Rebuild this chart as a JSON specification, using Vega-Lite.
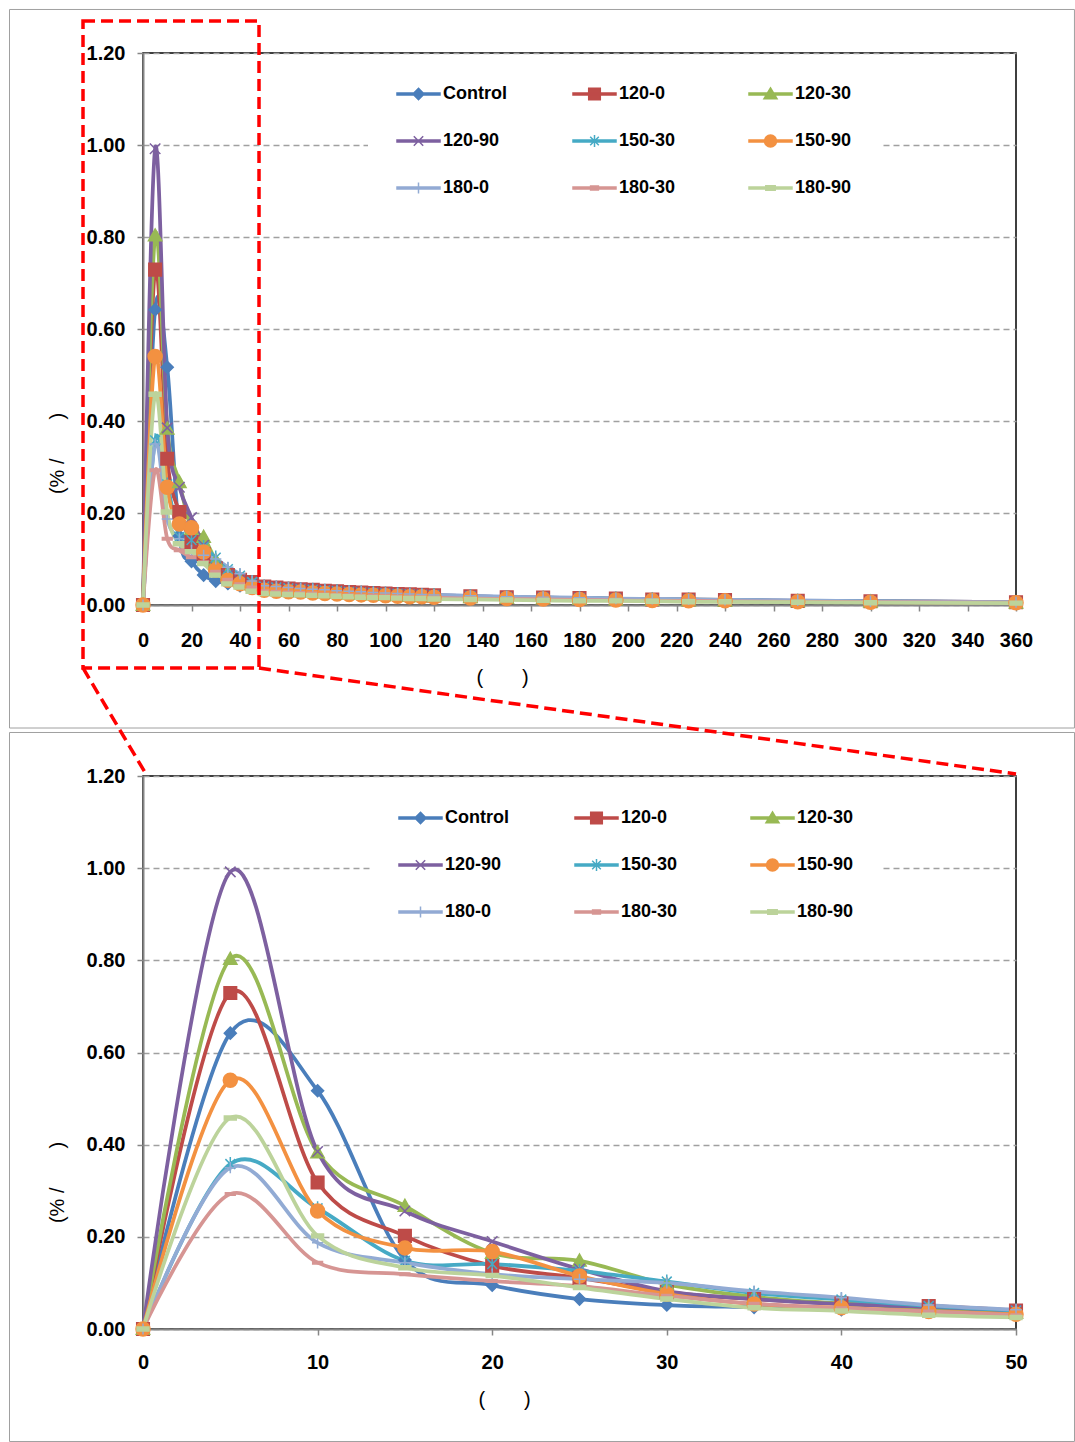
{
  "$schema": "https://vega.github.io/schema/vega-lite/v6.json",
  "background": "#FFFFFF",
  "padding": {"left": 8, "top": 8, "right": 0, "bottom": 0},
  "bounds": "flush",
  "spacing": 171,
  "resolve": {"legend": {"color": "independent"}},
  "config": {
    "font": "Liberation Sans",
    "view": {"stroke": "#000000", "strokeWidth": 1.5},
    "axis": {
      "labelFont": "Liberation Sans", "labelFontSize": 20, "labelFontWeight": "bold", "labelColor": "#000000",
      "domainColor": "#868686", "domainWidth": 2, "tickColor": "#868686", "tickWidth": 1.5, "tickSize": 6,
      "titleFont": "Liberation Sans", "titleFontSize": 20, "titleFontWeight": "normal", "titleColor": "#000000",
      "labelFlush": false, "labelOverlap": false,
      "gridColor": "#A0A0A0", "gridDash": [6, 4], "gridWidth": 1.3
    },
    "axisX": {"grid": false},
    "axisY": {"grid": true, "labelPadding": 12},
    "legend": {
      "orient": "none", "direction": "horizontal", "columns": 3, "gridAlign": "all",
      "columnPadding": 63, "rowPadding": 27, "padding": 28, "fillColor": "#FFFFFF",
      "symbolSize": 400, "symbolStrokeWidth": 1.5,
      "labelFont": "Liberation Sans", "labelFontSize": 18, "labelFontWeight": "bold", "labelColor": "#000000", "labelOffset": 25
    }
  },
  "datasets": {
    "d": [
      {"t": 0, "Control": 0, "120-0": 0, "120-30": 0, "120-90": 0, "150-30": 0, "150-90": 0, "180-0": 0, "180-30": 0, "180-90": 0},
      {"t": 5, "Control": 0.642, "120-0": 0.729, "120-30": 0.803, "120-90": 0.992, "150-30": 0.358, "150-90": 0.540, "180-0": 0.350, "180-30": 0.293, "180-90": 0.458},
      {"t": 10, "Control": 0.517, "120-0": 0.318, "120-30": 0.383, "120-90": 0.385, "150-30": 0.262, "150-90": 0.256, "180-0": 0.187, "180-30": 0.144, "180-90": 0.202},
      {"t": 15, "Control": 0.150, "120-0": 0.202, "120-30": 0.267, "120-90": 0.256, "150-30": 0.148, "150-90": 0.176, "180-0": 0.144, "180-30": 0.119, "180-90": 0.133},
      {"t": 20, "Control": 0.095, "120-0": 0.137, "120-30": 0.165, "120-90": 0.190, "150-30": 0.141, "150-90": 0.168, "180-0": 0.119, "180-30": 0.104, "180-90": 0.116},
      {"t": 25, "Control": 0.065, "120-0": 0.111, "120-30": 0.148, "120-90": 0.130, "150-30": 0.126, "150-90": 0.115, "180-0": 0.108, "180-30": 0.093, "180-90": 0.090},
      {"t": 30, "Control": 0.052, "120-0": 0.080, "120-30": 0.097, "120-90": 0.082, "150-30": 0.103, "150-90": 0.076, "180-0": 0.100, "180-30": 0.072, "180-90": 0.065},
      {"t": 35, "Control": 0.047, "120-0": 0.065, "120-30": 0.070, "120-90": 0.065, "150-30": 0.078, "150-90": 0.054, "180-0": 0.082, "180-30": 0.055, "180-90": 0.046},
      {"t": 40, "Control": 0.042, "120-0": 0.055, "120-30": 0.055, "120-90": 0.054, "150-30": 0.064, "150-90": 0.046, "180-0": 0.068, "180-30": 0.045, "180-90": 0.039},
      {"t": 45, "Control": 0.040, "120-0": 0.050, "120-30": 0.045, "120-90": 0.048, "150-30": 0.050, "150-90": 0.038, "180-0": 0.052, "180-30": 0.038, "180-90": 0.030},
      {"t": 50, "Control": 0.036, "120-0": 0.040, "120-30": 0.035, "120-90": 0.040, "150-30": 0.040, "150-90": 0.032, "180-0": 0.042, "180-30": 0.030, "180-90": 0.025},
      {"t": 55, "Control": 0.034, "120-0": 0.038, "120-30": 0.033, "120-90": 0.038, "150-30": 0.038, "150-90": 0.030, "180-0": 0.040, "180-30": 0.029, "180-90": 0.024},
      {"t": 60, "Control": 0.032, "120-0": 0.036, "120-30": 0.031, "120-90": 0.036, "150-30": 0.036, "150-90": 0.029, "180-0": 0.038, "180-30": 0.027, "180-90": 0.023},
      {"t": 65, "Control": 0.031, "120-0": 0.034, "120-30": 0.030, "120-90": 0.035, "150-30": 0.034, "150-90": 0.028, "180-0": 0.036, "180-30": 0.026, "180-90": 0.022},
      {"t": 70, "Control": 0.030, "120-0": 0.033, "120-30": 0.029, "120-90": 0.033, "150-30": 0.033, "150-90": 0.026, "180-0": 0.034, "180-30": 0.025, "180-90": 0.021},
      {"t": 75, "Control": 0.028, "120-0": 0.031, "120-30": 0.027, "120-90": 0.031, "150-30": 0.031, "150-90": 0.025, "180-0": 0.033, "180-30": 0.023, "180-90": 0.020},
      {"t": 80, "Control": 0.027, "120-0": 0.030, "120-30": 0.026, "120-90": 0.030, "150-30": 0.030, "150-90": 0.024, "180-0": 0.031, "180-30": 0.022, "180-90": 0.019},
      {"t": 85, "Control": 0.026, "120-0": 0.028, "120-30": 0.025, "120-90": 0.028, "150-30": 0.028, "150-90": 0.023, "180-0": 0.030, "180-30": 0.021, "180-90": 0.018},
      {"t": 90, "Control": 0.024, "120-0": 0.027, "120-30": 0.024, "120-90": 0.027, "150-30": 0.027, "150-90": 0.022, "180-0": 0.029, "180-30": 0.020, "180-90": 0.017},
      {"t": 95, "Control": 0.023, "120-0": 0.026, "120-30": 0.023, "120-90": 0.026, "150-30": 0.026, "150-90": 0.021, "180-0": 0.027, "180-30": 0.020, "180-90": 0.016},
      {"t": 100, "Control": 0.022, "120-0": 0.025, "120-30": 0.022, "120-90": 0.025, "150-30": 0.025, "150-90": 0.020, "180-0": 0.026, "180-30": 0.019, "180-90": 0.016},
      {"t": 105, "Control": 0.022, "120-0": 0.024, "120-30": 0.021, "120-90": 0.024, "150-30": 0.024, "150-90": 0.019, "180-0": 0.025, "180-30": 0.018, "180-90": 0.015},
      {"t": 110, "Control": 0.021, "120-0": 0.023, "120-30": 0.020, "120-90": 0.023, "150-30": 0.023, "150-90": 0.018, "180-0": 0.024, "180-30": 0.017, "180-90": 0.014},
      {"t": 115, "Control": 0.020, "120-0": 0.022, "120-30": 0.019, "120-90": 0.022, "150-30": 0.022, "150-90": 0.018, "180-0": 0.023, "180-30": 0.017, "180-90": 0.014},
      {"t": 120, "Control": 0.019, "120-0": 0.021, "120-30": 0.019, "120-90": 0.021, "150-30": 0.021, "150-90": 0.017, "180-0": 0.022, "180-30": 0.016, "180-90": 0.013},
      {"t": 135, "Control": 0.017, "120-0": 0.019, "120-30": 0.017, "120-90": 0.019, "150-30": 0.019, "150-90": 0.015, "180-0": 0.020, "180-30": 0.014, "180-90": 0.012},
      {"t": 150, "Control": 0.015, "120-0": 0.017, "120-30": 0.015, "120-90": 0.017, "150-30": 0.017, "150-90": 0.014, "180-0": 0.018, "180-30": 0.013, "180-90": 0.011},
      {"t": 165, "Control": 0.014, "120-0": 0.016, "120-30": 0.014, "120-90": 0.016, "150-30": 0.016, "150-90": 0.013, "180-0": 0.017, "180-30": 0.012, "180-90": 0.010},
      {"t": 180, "Control": 0.013, "120-0": 0.015, "120-30": 0.013, "120-90": 0.015, "150-30": 0.015, "150-90": 0.012, "180-0": 0.016, "180-30": 0.011, "180-90": 0.009},
      {"t": 195, "Control": 0.012, "120-0": 0.014, "120-30": 0.012, "120-90": 0.013, "150-30": 0.014, "150-90": 0.011, "180-0": 0.014, "180-30": 0.010, "180-90": 0.009},
      {"t": 210, "Control": 0.011, "120-0": 0.012, "120-30": 0.011, "120-90": 0.012, "150-30": 0.012, "150-90": 0.010, "180-0": 0.013, "180-30": 0.009, "180-90": 0.008},
      {"t": 225, "Control": 0.010, "120-0": 0.012, "120-30": 0.010, "120-90": 0.011, "150-30": 0.012, "150-90": 0.009, "180-0": 0.012, "180-30": 0.009, "180-90": 0.007},
      {"t": 240, "Control": 0.010, "120-0": 0.011, "120-30": 0.009, "120-90": 0.011, "150-30": 0.011, "150-90": 0.009, "180-0": 0.011, "180-30": 0.008, "180-90": 0.007},
      {"t": 270, "Control": 0.008, "120-0": 0.009, "120-30": 0.008, "120-90": 0.009, "150-30": 0.009, "150-90": 0.007, "180-0": 0.010, "180-30": 0.007, "180-90": 0.006},
      {"t": 300, "Control": 0.007, "120-0": 0.008, "120-30": 0.007, "120-90": 0.008, "150-30": 0.008, "150-90": 0.006, "180-0": 0.008, "180-30": 0.006, "180-90": 0.005},
      {"t": 360, "Control": 0.005, "120-0": 0.006, "120-30": 0.005, "120-90": 0.006, "150-30": 0.006, "150-90": 0.005, "180-0": 0.006, "180-30": 0.005, "180-90": 0.004}
    ]
  },
  "vconcat": [
    {
      "width": 873,
      "height": 552,
      "layer": [
        {
          "data": {"name": "d"},
          "transform": [{"fold": ["Control", "120-0", "120-30", "120-90", "150-30", "150-90", "180-0", "180-30", "180-90"], "as": ["s", "v"]}],
          "encoding": {
            "x": {"field": "t", "type": "quantitative", "scale": {"domain": [0, 360]},
              "axis": {"values": [0, 20, 40, 60, 80, 100, 120, 140, 160, 180, 200, 220, 240, 260, 280, 300, 320, 340, 360], "labelPadding": 19,
                "title": "(\u00a0\u00a0\u00a0\u00a0\u00a0\u00a0\u00a0)", "titleX": 359, "titleY": 72, "titleBaseline": "middle"}},
            "y": {"field": "v", "type": "quantitative", "scale": {"domain": [0, 1.2]},
              "axis": {"values": [0, 0.2, 0.4, 0.6, 0.8, 1, 1.2], "format": ".2f",
                "title": "(% /\u00a0\u00a0\u00a0\u00a0\u00a0\u00a0\u00a0)", "titleX": -86, "titleY": 400, "titleBaseline": "middle"}},
            "color": {"field": "s", "type": "nominal",
              "scale": {"domain": ["Control", "120-0", "120-30", "120-90", "150-30", "150-90", "180-0", "180-30", "180-90"],
                "range": ["#4A7EBB", "#BE4B48", "#98B954", "#7D60A0", "#46AAC5", "#F39141", "#92ABD4", "#D69593", "#BCD39B"]},
              "legend": {
                "title": null, "legendX": 225, "legendY": 2,
                "encode": {"symbols": {"update": {
                  "shape": {"signal": "['M-1,-0.11H3.3V0.11H-1Z M1.15,-0.56L1.71,0L1.15,0.56L0.59,0Z','M-1,-0.11H3.3V0.11H-1Z M0.57,-0.58H1.73V0.58H0.57Z','M-1,-0.11H3.3V0.11H-1Z M1.15,-0.6L1.8,0.47H0.5Z','M-1,-0.11H3.3V0.11H-1Z M0.68,-0.47L1.62,0.47M0.68,0.47L1.62,-0.47','M-1,-0.11H3.3V0.11H-1Z M0.72,-0.43L1.58,0.43M0.72,0.43L1.58,-0.43M1.15,-0.6V0.6','M-1,-0.11H3.3V0.11H-1Z M0.55,0A0.6,0.6 0 1 1 1.75,0A0.6,0.6 0 1 1 0.55,0Z','M-1,-0.11H3.3V0.11H-1Z M1.15,-0.56V0.56','M-1,-0.11H3.3V0.11H-1Z M0.76,-0.19H1.54V0.19H0.76Z','M-1,-0.11H3.3V0.11H-1Z M0.68,-0.22H1.62V0.22H0.68Z'][indexof(['Control','120-0','120-30','120-90','150-30','150-90','180-0','180-30','180-90'], datum.value)]"},
                  "fill": {"scale": "color", "field": "value"},
                  "stroke": {"scale": "color", "field": "value"},
                  "strokeWidth": {"value": 1.5},
                  "opacity": {"value": 1}
                }}}
              }}
          },
          "layer": [
            {"mark": {"type": "line", "interpolate": "cardinal", "strokeWidth": 3.75}},
            {"mark": {"type": "point", "filled": true, "size": 196, "strokeWidth": 1.5, "opacity": 1},
              "encoding": {
                "shape": {"field": "s", "type": "nominal", "legend": null,
                  "scale": {"domain": ["Control", "120-0", "120-30", "120-90", "150-30", "150-90", "180-0", "180-30", "180-90"],
                    "range": ["M0,-0.86L0.86,0L0,0.86L-0.86,0Z", "M-0.9,-0.9H0.9V0.9H-0.9Z", "M0,-0.95L0.95,0.75H-0.95Z", "M-0.75,-0.75L0.75,0.75M-0.75,0.75L0.75,-0.75", "M-0.7,-0.7L0.7,0.7M-0.7,0.7L0.7,-0.7M0,-1V1", "M-1,0A1,1 0 1 1 1,0A1,1 0 1 1 -1,0Z", "M-0.8,0H0.8M0,-0.8V0.8", "M-0.7,-0.18H0.7V0.18H-0.7Z", "M-0.85,-0.28H0.85V0.28H-0.85Z"]}},
                "stroke": {"field": "s", "type": "nominal", "legend": null,
                  "scale": {"domain": ["Control", "120-0", "120-30", "120-90", "150-30", "150-90", "180-0", "180-30", "180-90"],
                    "range": ["#4A7EBB", "#BE4B48", "#98B954", "#7D60A0", "#46AAC5", "#F39141", "#92ABD4", "#D69593", "#BCD39B"]}}
              }}
          ]
        },
        {
          "data": {"values": [{"x1": -55.05, "x2": 384.1, "y1": -0.2674, "y2": 1.2946}]},
          "mark": {"type": "rect", "filled": false, "stroke": "#A0A0A0", "strokeWidth": 1, "clip": false},
          "encoding": {
            "x": {"field": "x1", "type": "quantitative", "scale": {"domain": [0, 360]}},
            "x2": {"field": "x2"},
            "y": {"field": "y1", "type": "quantitative", "scale": {"domain": [0, 1.2]}},
            "y2": {"field": "y2"}
          }
        },
        {
          "data": {"values": [{"x1": -24.74, "x2": 47.84, "y1": -0.137, "y2": 1.2696}]},
          "mark": {"type": "rect", "filled": false, "stroke": "#FF0000", "strokeWidth": 3.5, "strokeDash": [12, 6], "clip": false},
          "encoding": {
            "x": {"field": "x1", "type": "quantitative", "scale": {"domain": [0, 360]}},
            "x2": {"field": "x2"},
            "y": {"field": "y1", "type": "quantitative", "scale": {"domain": [0, 1.2]}},
            "y2": {"field": "y2"}
          }
        }
      ]
    },
    {
      "width": 873,
      "height": 553,
      "layer": [
        {
          "data": {"name": "d"},
          "transform": [
            {"filter": "datum.t <= 50"},
            {"fold": ["Control", "120-0", "120-30", "120-90", "150-30", "150-90", "180-0", "180-30", "180-90"], "as": ["s", "v"]}
          ],
          "encoding": {
            "x": {"field": "t", "type": "quantitative", "scale": {"domain": [0, 50]},
              "axis": {"values": [0, 10, 20, 30, 40, 50], "labelPadding": 17,
                "title": "(\u00a0\u00a0\u00a0\u00a0\u00a0\u00a0\u00a0)", "titleX": 361, "titleY": 70, "titleBaseline": "middle"}},
            "y": {"field": "v", "type": "quantitative", "scale": {"domain": [0, 1.2]},
              "axis": {"values": [0, 0.2, 0.4, 0.6, 0.8, 1, 1.2], "format": ".2f",
                "title": "(% /\u00a0\u00a0\u00a0\u00a0\u00a0\u00a0\u00a0)", "titleX": -86, "titleY": 406, "titleBaseline": "middle"}},
            "color": {"field": "s", "type": "nominal",
              "scale": {"domain": ["Control", "120-0", "120-30", "120-90", "150-30", "150-90", "180-0", "180-30", "180-90"],
                "range": ["#4A7EBB", "#BE4B48", "#98B954", "#7D60A0", "#46AAC5", "#F39141", "#92ABD4", "#D69593", "#BCD39B"]},
              "legend": {
                "title": null, "legendX": 227, "legendY": 3,
                "encode": {"symbols": {"update": {
                  "shape": {"signal": "['M-1,-0.11H3.3V0.11H-1Z M1.15,-0.56L1.71,0L1.15,0.56L0.59,0Z','M-1,-0.11H3.3V0.11H-1Z M0.57,-0.58H1.73V0.58H0.57Z','M-1,-0.11H3.3V0.11H-1Z M1.15,-0.6L1.8,0.47H0.5Z','M-1,-0.11H3.3V0.11H-1Z M0.68,-0.47L1.62,0.47M0.68,0.47L1.62,-0.47','M-1,-0.11H3.3V0.11H-1Z M0.72,-0.43L1.58,0.43M0.72,0.43L1.58,-0.43M1.15,-0.6V0.6','M-1,-0.11H3.3V0.11H-1Z M0.55,0A0.6,0.6 0 1 1 1.75,0A0.6,0.6 0 1 1 0.55,0Z','M-1,-0.11H3.3V0.11H-1Z M1.15,-0.56V0.56','M-1,-0.11H3.3V0.11H-1Z M0.76,-0.19H1.54V0.19H0.76Z','M-1,-0.11H3.3V0.11H-1Z M0.68,-0.22H1.62V0.22H0.68Z'][indexof(['Control','120-0','120-30','120-90','150-30','150-90','180-0','180-30','180-90'], datum.value)]"},
                  "fill": {"scale": "color", "field": "value"},
                  "stroke": {"scale": "color", "field": "value"},
                  "strokeWidth": {"value": 1.5},
                  "opacity": {"value": 1}
                }}}
              }}
          },
          "layer": [
            {"mark": {"type": "line", "interpolate": "cardinal", "strokeWidth": 3.75}},
            {"mark": {"type": "point", "filled": true, "size": 196, "strokeWidth": 1.5, "opacity": 1},
              "encoding": {
                "shape": {"field": "s", "type": "nominal", "legend": null,
                  "scale": {"domain": ["Control", "120-0", "120-30", "120-90", "150-30", "150-90", "180-0", "180-30", "180-90"],
                    "range": ["M0,-0.86L0.86,0L0,0.86L-0.86,0Z", "M-0.9,-0.9H0.9V0.9H-0.9Z", "M0,-0.95L0.95,0.75H-0.95Z", "M-0.75,-0.75L0.75,0.75M-0.75,0.75L0.75,-0.75", "M-0.7,-0.7L0.7,0.7M-0.7,0.7L0.7,-0.7M0,-1V1", "M-1,0A1,1 0 1 1 1,0A1,1 0 1 1 -1,0Z", "M-0.8,0H0.8M0,-0.8V0.8", "M-0.7,-0.18H0.7V0.18H-0.7Z", "M-0.85,-0.28H0.85V0.28H-0.85Z"]}},
                "stroke": {"field": "s", "type": "nominal", "legend": null,
                  "scale": {"domain": ["Control", "120-0", "120-30", "120-90", "150-30", "150-90", "180-0", "180-30", "180-90"],
                    "range": ["#4A7EBB", "#BE4B48", "#98B954", "#7D60A0", "#46AAC5", "#F39141", "#92ABD4", "#D69593", "#BCD39B"]}}
              }}
          ]
        },
        {
          "data": {"values": [{"x1": -7.646, "x2": 53.35, "y1": -0.2441, "y2": 1.2944}]},
          "mark": {"type": "rect", "filled": false, "stroke": "#A0A0A0", "strokeWidth": 1, "clip": false},
          "encoding": {
            "x": {"field": "x1", "type": "quantitative", "scale": {"domain": [0, 50]}},
            "x2": {"field": "x2"},
            "y": {"field": "y1", "type": "quantitative", "scale": {"domain": [0, 1.2]}},
            "y2": {"field": "y2"}
          }
        },
        {
          "data": {"values": [{"x1": -3.436, "x2": 0.17, "y1": 1.4344, "y2": 1.2043}, {"x1": 6.644, "x2": 50.0, "y1": 1.4344, "y2": 1.2043}]},
          "mark": {"type": "rule", "stroke": "#FF0000", "strokeWidth": 3.5, "strokeDash": [12, 6], "clip": false},
          "encoding": {
            "x": {"field": "x1", "type": "quantitative", "scale": {"domain": [0, 50]}},
            "x2": {"field": "x2"},
            "y": {"field": "y1", "type": "quantitative", "scale": {"domain": [0, 1.2]}},
            "y2": {"field": "y2"}
          }
        }
      ]
    }
  ]
}
